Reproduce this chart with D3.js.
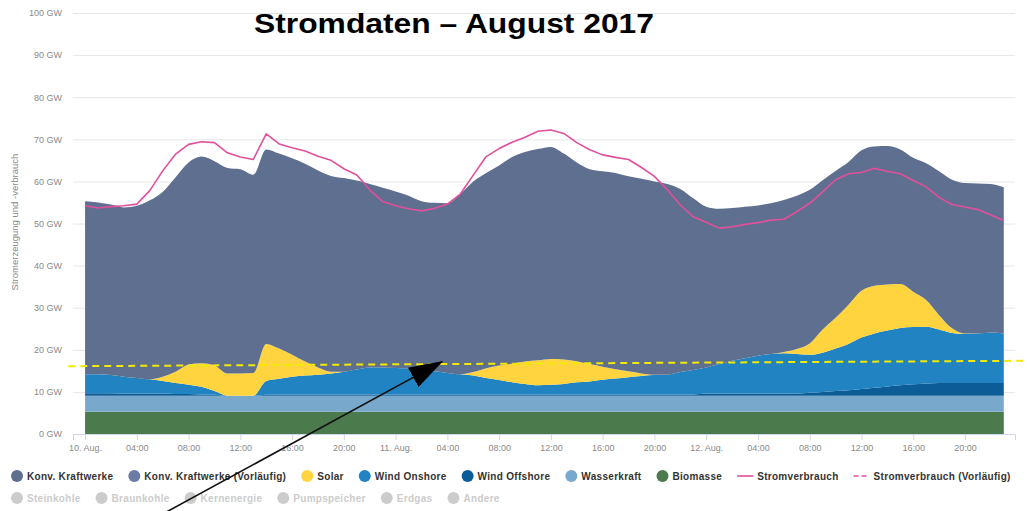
<!DOCTYPE html>
<html>
<head>
<meta charset="utf-8">
<script src="https://cdn.jsdelivr.net/npm/d3@7"></script>
<style>
  html, body { margin: 0; padding: 0; background: #fff; }
  svg { display: block; font-family: "Liberation Sans", Arial, sans-serif; }
</style>
</head>
<body>
<svg id="chart" width="1027" height="511"></svg>
<script>
// Stromdaten 10.-12. August 2017, stündlich (GW)
const startTime = new Date(2017, 7, 10, 0, 0);

const biomasse = [
  5.3,5.3,5.3,5.3,5.3,5.3,5.3,5.3,5.3,5.3,5.3,5.3,
  5.3,5.3,5.3,5.3,5.3,5.3,5.3,5.3,5.3,5.3,5.3,5.3,
  5.3,5.3,5.3,5.3,5.3,5.3,5.3,5.3,5.3,5.3,5.3,5.3,
  5.3,5.3,5.3,5.3,5.3,5.3,5.3,5.3,5.3,5.3,5.3,5.3,
  5.3,5.3,5.3,5.3,5.3,5.3,5.3,5.3,5.3,5.3,5.3,5.3,
  5.3,5.3,5.3,5.3,5.3,5.3,5.3,5.3,5.3,5.3,5.3,5.3
];
const wasserkraft = [
  3.8,3.8,3.8,3.8,3.8,3.8,3.8,3.8,3.8,3.8,3.8,3.8,
  3.8,3.8,3.8,3.8,3.8,3.8,3.8,3.8,3.8,3.8,3.8,3.8,
  3.8,3.8,3.8,3.8,3.8,3.8,3.8,3.8,3.8,3.8,3.8,3.8,
  3.8,3.8,3.8,3.8,3.8,3.8,3.8,3.8,3.8,3.8,3.8,3.8,
  3.8,3.8,3.8,3.8,3.8,3.8,3.8,3.8,3.8,3.8,3.8,3.8,
  3.8,3.8,3.8,3.8,3.8,3.8,3.8,3.8,3.8,3.8,3.8,3.8
];
const windOffshore = [
  0.6,0.6,0.6,0.5,0.5,0.5,0.5,0.4,0.4,0.3,0.2,0.0,
  0.0,0.0,0.2,0.3,0.3,0.3,0.3,0.3,0.3,0.3,0.3,0.3,
  0.3,0.3,0.3,0.3,0.3,0.3,0.3,0.3,0.3,0.3,0.3,0.3,
  0.3,0.3,0.3,0.3,0.3,0.3,0.3,0.3,0.3,0.3,0.3,0.3,
  0.5,0.5,0.5,0.5,0.5,0.5,0.5,0.5,0.7,0.9,1.1,1.3,
  1.6,1.9,2.2,2.5,2.7,2.9,3.0,3.0,3.0,3.0,3.0,3.0
];
const windOnshore = [
  4.5,4.5,4.3,4.0,3.7,3.4,3.0,2.6,2.2,1.8,0.9,0.0,
  0.0,0.0,3.3,3.7,4.2,4.5,4.7,5.0,5.4,5.9,6.4,6.4,
  6.3,6.2,5.8,5.5,5.1,4.8,4.5,3.9,3.4,2.9,2.5,2.2,
  2.3,2.5,2.9,3.1,3.5,3.8,4.1,4.4,4.6,4.7,5.3,5.8,
  6.2,7.0,7.8,8.4,9.0,9.4,9.6,9.4,9.0,9.3,10.1,11.0,
  12.2,12.9,13.3,13.6,13.6,13.5,12.7,11.9,11.7,11.8,12.0,11.8
];
const solar = [
  0.0,0.0,0.0,0.0,0.0,0.0,1.0,2.7,4.8,5.6,6.1,5.3,
  5.3,5.4,8.8,7.2,5.2,3.3,1.7,0.4,0.0,0.0,0.0,0.0,
  0.0,0.0,0.0,0.0,0.0,0.0,0.8,2.3,3.5,4.4,5.3,5.9,
  6.1,5.8,5.0,4.1,3.1,2.2,1.4,0.6,0.1,0.0,0.0,0.0,
  0.0,0.0,0.0,0.0,0.0,0.0,0.3,1.2,2.7,5.5,7.3,9.3,
  11.1,11.3,10.9,10.4,8.4,6.3,3.4,1.1,0.1,0.0,0.0,0.0
];
const konvKraftwerke = [
  41.1,40.8,40.5,40.2,40.9,42.5,43.9,46.2,48.0,49.1,48.5,48.8,
  48.5,47.1,46.2,46.3,46.7,47.0,46.8,46.5,46.0,44.9,43.6,42.7,
  41.9,41.0,40.1,40.0,40.3,42.8,45.3,46.4,47.5,49.1,49.8,50.2,
  50.4,48.9,47.2,46.3,46.4,46.6,46.3,46.2,45.9,45.3,43.5,40.8,
  38.2,36.9,36.3,36.0,35.7,35.8,36.1,36.4,36.5,35.5,34.9,33.9,
  33.4,33.1,32.9,32.0,31.8,32.5,34.2,35.3,35.7,35.6,35.3,34.7
];
const stromverbrauch = [
  54.2,53.7,54.0,54.2,54.6,57.8,62.5,66.5,68.8,69.4,69.2,66.8,
  65.8,65.2,71.3,68.9,68.0,67.2,66.0,65.0,63.0,61.5,58.0,55.2,
  54.2,53.5,53.0,53.6,54.6,57.0,61.5,65.9,67.8,69.3,70.5,71.9,
  72.2,71.4,69.2,67.5,66.3,65.7,65.2,63.3,61.2,58.0,54.4,51.6,
  50.3,48.9,49.2,49.8,50.2,50.8,51.0,52.8,54.8,57.5,60.4,61.8,
  62.1,63.1,62.4,61.8,60.2,58.7,56.2,54.5,53.9,53.3,52.0,50.7
];

const yTicks = [0, 10, 20, 30, 40, 50, 60, 70, 80, 90, 100];

// Anmerkung im Bild: gestrichelte Linie und Pfeil (Stunden, GW)
const markLineHours = [-1.3, 72.8];
const markLineValues = [16.1, 17.4];
const arrowFrom = [6.3, -18.5];
const arrowTo = [27.6, 17.2];

const seriesKeys = ["biomasse", "wasserkraft", "windOffshore", "windOnshore", "solar", "konv"];
const seriesColors = ["#4b7a4d", "#78a8cc", "#0b5c97", "#2283c2", "#ffd43f", "#5f6f8f"];

const legendRow1 = ["Konv. Kraftwerke", "Konv. Kraftwerke (Vorläufig)", "Solar", "Wind Onshore",
  "Wind Offshore", "Wasserkraft", "Biomasse", "Stromverbrauch", "Stromverbrauch (Vorläufig)"];
const legendRow1Symbols = ["circle", "circle", "circle", "circle", "circle", "circle", "circle", "line", "dash"];
const legendRow1Colors = ["#5f6f8f", "#6a7ca3", "#ffd43f", "#2283c2", "#0b5c97", "#78a8cc", "#4b7a4d", "#e0509b", "#e0509b"];
const legendRow2 = ["Steinkohle", "Braunkohle", "Kernenergie", "Pumpspeicher", "Erdgas", "Andere"];

// ------------------------------------------------------------
const svg = d3.select("#chart");
const hour = h => d3.timeMinute.offset(startTime, Math.round(h * 60));

const rows = konvKraftwerke.map((v, i) => ({
  date: hour(i),
  biomasse: biomasse[i],
  wasserkraft: wasserkraft[i],
  windOffshore: windOffshore[i],
  windOnshore: windOnshore[i],
  solar: solar[i],
  konv: v
}));

const x = d3.scaleTime()
  .domain([hour(-0.933), hour(71.87)])
  .range([73, 1015]);
const y = d3.scaleLinear().domain([0, 100]).range([434, 13]);

// Gitter + y-Achse
const yAxis = d3.axisLeft(y)
  .tickValues(yTicks)
  .tickSize(-(1015 - 73))
  .tickPadding(11)
  .tickFormat(d => d + " GW");
const gy = svg.append("g").attr("transform", "translate(73,0)").call(yAxis);
gy.select(".domain").remove();
gy.selectAll(".tick line").attr("stroke", "#e6e6e6");
gy.selectAll(".tick text").attr("fill", "#8a8a8a").style("font-size", "9px");

svg.append("text")
  .attr("transform", "translate(18,222) rotate(-90)")
  .attr("text-anchor", "middle")
  .attr("fill", "#8a8a8a")
  .style("font-size", "9.5px")
  .text("Stromerzeugung und -verbrauch");

// gestapelte Flächen
const stack = d3.stack().keys(seriesKeys);
const layers = stack(rows);
const area = d3.area()
  .x(d => x(d.data.date))
  .y0(d => y(d[0]))
  .y1(d => y(d[1]))
  .curve(d3.curveMonotoneX);

svg.append("g").selectAll("path")
  .data(layers)
  .join("path")
  .attr("fill", (d, i) => seriesColors[i])
  .attr("d", area);

// Stromverbrauch
const line = d3.line()
  .x((d, i) => x(hour(i)))
  .y(d => y(d));
svg.append("path")
  .datum(stromverbrauch)
  .attr("fill", "none")
  .attr("stroke", "#e0509b")
  .attr("stroke-width", 1.6)
  .attr("stroke-linejoin", "round")
  .attr("d", line);

// x-Achse
const xAxis = d3.axisBottom(x)
  .ticks(d3.timeHour.every(4))
  .tickSize(6)
  .tickPadding(5)
  .tickFormat(d => d.getHours() === 0 ? d3.timeFormat("%-d. Aug.")(d) : d3.timeFormat("%H:%M")(d));
const gx = svg.append("g").attr("transform", "translate(0,434)").call(xAxis);
gx.select(".domain").attr("stroke", "#ccd6eb");
gx.selectAll(".tick line").attr("stroke", "#ccd6eb");
gx.selectAll(".tick text").attr("fill", "#8a8a8a").style("font-size", "9px");

// Titel
svg.append("text")
  .attr("x", 454)
  .attr("y", 33)
  .attr("text-anchor", "middle")
  .attr("fill", "#000")
  .attr("textLength", 400)
  .attr("lengthAdjust", "spacingAndGlyphs")
  .style("font-size", "27px")
  .style("font-weight", "bold")
  .text("Stromdaten – August 2017");

// Legende
function legendRow(names, symbols, colors, yPos, textColor) {
  const g = svg.append("g");
  let cx = 11;
  names.forEach((name, i) => {
    const sym = symbols[i];
    let tx;
    if (sym === "circle") {
      g.append("circle").attr("cx", cx + 6).attr("cy", yPos).attr("r", 6).attr("fill", colors[i]);
      tx = cx + 16;
    } else {
      g.append("line")
        .attr("x1", cx).attr("x2", cx + 16)
        .attr("y1", yPos).attr("y2", yPos)
        .attr("stroke", colors[i]).attr("stroke-width", 1.6)
        .attr("stroke-dasharray", sym === "dash" ? "5,3" : null);
      tx = cx + 20;
    }
    const t = g.append("text")
      .attr("x", tx).attr("y", yPos + 3.5)
      .attr("fill", textColor)
      .style("font-size", "10px")
      .style("font-weight", "bold")
      .style("letter-spacing", "0.3px")
      .text(name);
    cx = tx + t.node().getComputedTextLength() + 15;
  });
}
legendRow(legendRow1, legendRow1Symbols, legendRow1Colors, 476, "#333");
legendRow(legendRow2, legendRow2.map(() => "circle"), legendRow2.map(() => "#cccccc"), 498, "#cccccc");

// Anmerkung: gelbe gestrichelte Linie
svg.append("path")
  .datum(markLineHours.map((h, i) => [h, markLineValues[i]]))
  .attr("fill", "none")
  .attr("stroke", "#f2ea00")
  .attr("stroke-width", 2)
  .attr("stroke-dasharray", "7,5")
  .attr("d", d3.line().x(d => x(hour(d[0]))).y(d => y(d[1])));

// Anmerkung: Pfeil
svg.append("defs").append("marker")
  .attr("id", "head")
  .attr("markerUnits", "userSpaceOnUse")
  .attr("viewBox", "0 0 34 22")
  .attr("markerWidth", 34)
  .attr("markerHeight", 22)
  .attr("refX", 33)
  .attr("refY", 11)
  .attr("orient", "auto")
  .append("path")
  .attr("d", "M0,0L34,11L0,22z")
  .attr("fill", "#000");

svg.append("line")
  .attr("x1", x(hour(arrowFrom[0]))).attr("y1", y(arrowFrom[1]))
  .attr("x2", x(hour(arrowTo[0]))).attr("y2", y(arrowTo[1]))
  .attr("stroke", "#111")
  .attr("stroke-width", 1.6)
  .attr("marker-end", "url(#head)");
</script>
</body>
</html>
